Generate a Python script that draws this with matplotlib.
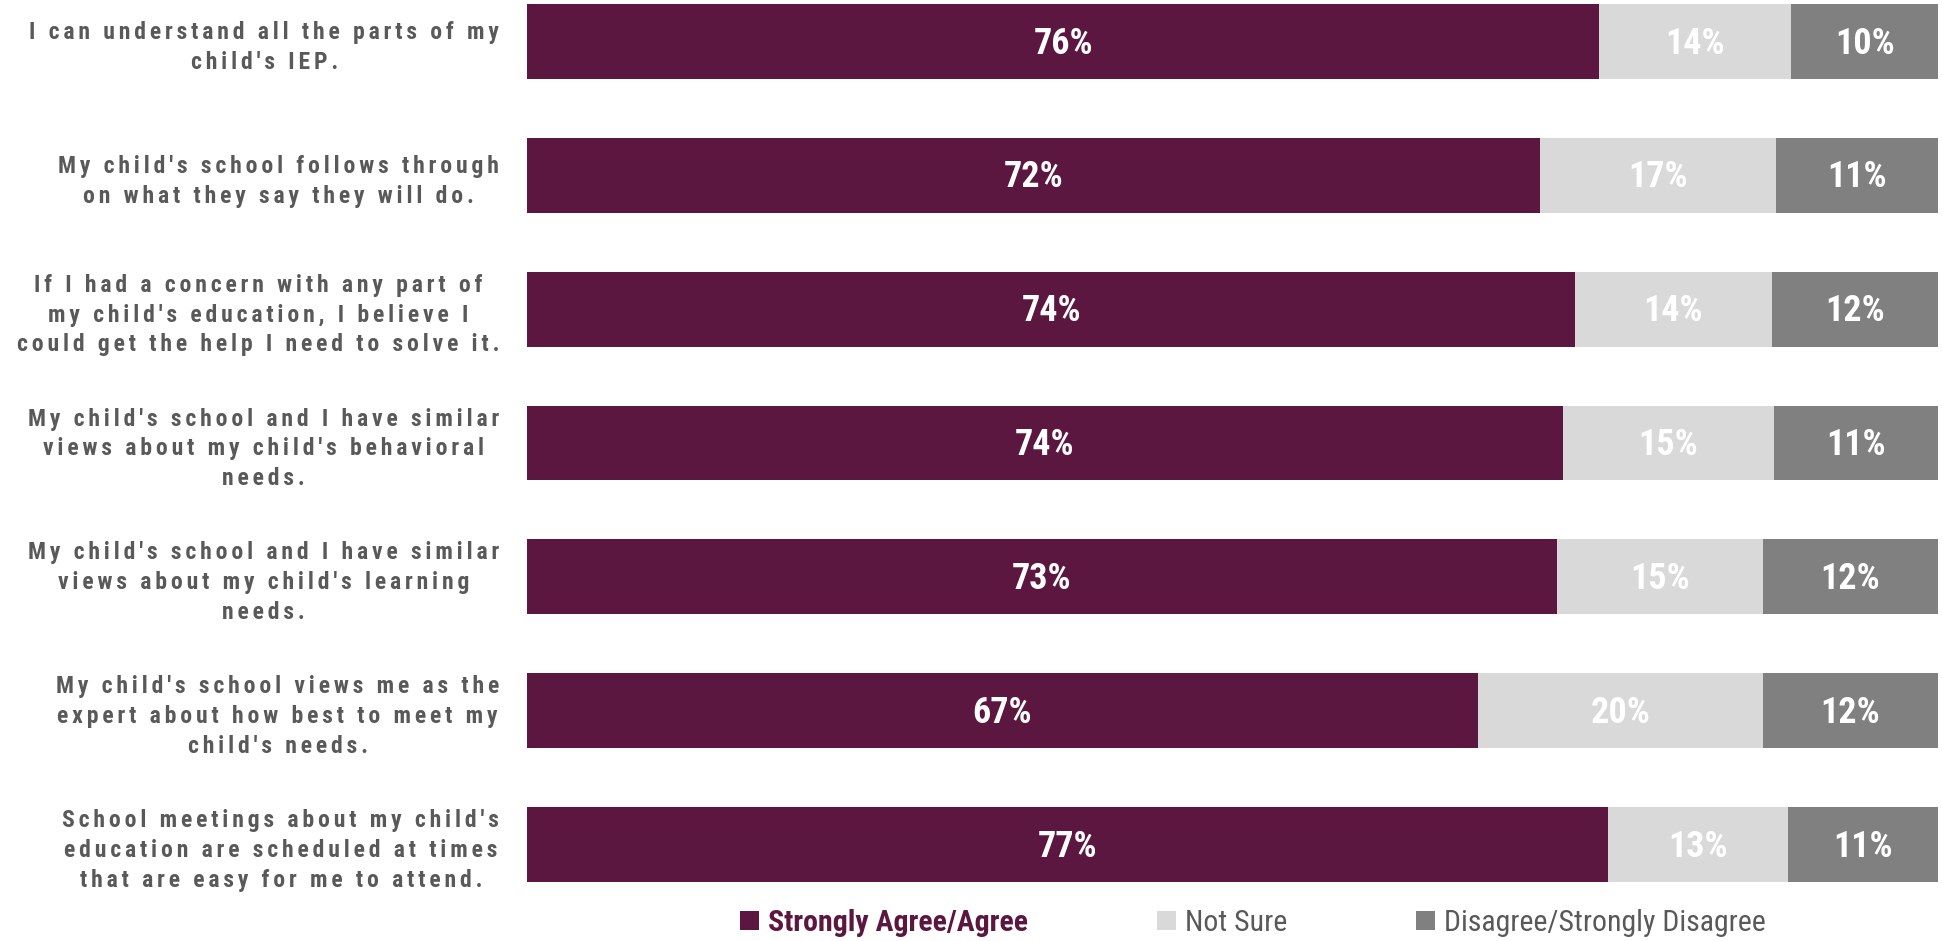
import matplotlib
matplotlib.use("Agg")
import matplotlib.pyplot as plt
from matplotlib import font_manager as fm
import numpy as np

categories = [
    "I can understand all the parts of my\nchild's IEP.",
    "My child's school follows through\non what they say they will do.",
    "If I had a concern with any part of\nmy child's education, I believe I\ncould get the help I need to solve it.",
    "My child's school and I have similar\nviews about my child's behavioral\nneeds.",
    "My child's school and I have similar\nviews about my child's learning\nneeds.",
    "My child's school views me as the\nexpert about how best to meet my\nchild's needs.",
    "School meetings about my child's\neducation are scheduled at times\nthat are easy for me to attend.",
]
agree = [76.0, 71.8, 74.3, 73.4, 73.0, 67.4, 76.6]
not_sure = [13.6, 16.7, 13.9, 15.0, 14.6, 20.2, 12.8]
disagree = [10.4, 11.5, 11.8, 11.6, 12.4, 12.4, 10.6]
agree_labels = ["76%", "72%", "74%", "74%", "73%", "67%", "77%"]
not_sure_labels = ["14%", "17%", "14%", "15%", "15%", "20%", "13%"]
disagree_labels = ["10%", "11%", "12%", "11%", "12%", "12%", "11%"]
series_names = ["Strongly Agree/Agree", "Not Sure", "Disagree/Strongly Disagree"]

PURPLE = "#5C1740"
LIGHT = "#D9D9D9"
GRAY = "#808080"
TEXT = "#595959"

available = {f.name for f in fm.fontManager.ttflist}
cond = "Liberation Sans"
for cand in ["Liberation Sans Narrow", "Roboto Condensed", "Nimbus Sans Narrow",
             "Arimo Narrow", "Barlow Semi Condensed", "Fira Sans Condensed"]:
    if cand in available:
        cond = cand
        break
narrow = [cond, "Liberation Sans", "DejaVu Sans"]
LABEL_SIZE = 17


def spaced(s, sep):
    return "\n".join(sep.join(line) for line in s.split("\n"))


fig = plt.figure(figsize=(19.42, 9.41), dpi=100)
renderer = fig.canvas.get_renderer()

# choose letter-spacing so that the widest label line is about 485 px wide
probe_line = "could get the help I need to solve it."
best_sep, best_err = "\u200a", 1e9
for sep in ["", "\u200a", "\u2009", "\u2006", "\u2005", "\u200a\u200a"]:
    t = fig.text(0, 0, sep.join(probe_line), fontsize=LABEL_SIZE, fontweight="bold", family=narrow)
    w = t.get_window_extent(renderer).width
    t.remove()
    if abs(w - 485) < best_err:
        best_err, best_sep = abs(w - 485), sep

ax = fig.add_axes([527 / 1942, 59 / 941, (1938 - 527) / 1942, 878 / 941])

y = np.arange(len(categories))
h = 0.56
series = [agree, not_sure, disagree]
labels = [agree_labels, not_sure_labels, disagree_labels]
colors = [PURPLE, LIGHT, GRAY]
left = np.zeros(len(categories))
handles = []
for vals, labs, col, name in zip(series, labels, colors, series_names):
    vals = np.array(vals)
    bars = ax.barh(y, vals, left=left, height=h, color=col, label=name, edgecolor="none")
    handles.append(bars)
    for yi, l, v, t in zip(y, left, vals, labs):
        ax.annotate(t, (l + v / 2, yi), xytext=(0, -1.5), textcoords="offset points",
                    ha="center", va="center", color="white",
                    fontsize=26, fontweight="bold", family=narrow)
    left = left + vals

ax.set_xlim(0, 100)
ax.set_ylim(len(categories) - 1 + 0.28, -0.28)
ax.set_yticks(y)
ax.set_yticklabels([spaced(c, best_sep) for c in categories], fontsize=LABEL_SIZE,
                   fontweight="bold", color=TEXT, family=narrow,
                   multialignment="center", linespacing=1.38)
ax.tick_params(axis="y", length=0, pad=20)
ax.set_xticks([])
for s in ax.spines.values():
    s.set_visible(False)

leg = fig.legend(handles=handles, labels=series_names, loc="center",
                 bbox_to_anchor=(1253 / 1942, 1 - 923 / 941), ncol=3, frameon=False,
                 handlelength=0.65, handleheight=0.65, handletextpad=0.3,
                 columnspacing=4.3, prop={"family": narrow, "size": 21.5})
for txt, c in zip(leg.get_texts(), [PURPLE, TEXT, TEXT]):
    txt.set_color(c)
leg.get_texts()[0].set_fontweight("bold")

fig.savefig("out.png", dpi=100)
